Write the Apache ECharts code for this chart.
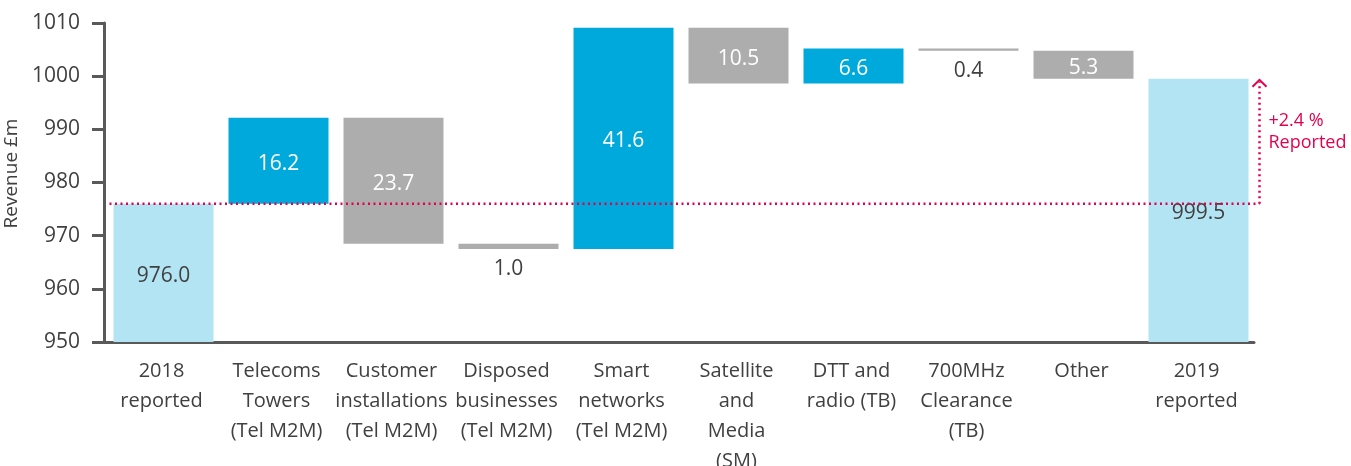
<!DOCTYPE html>
<html>
<head>
<meta charset="utf-8">
<script src="https://cdn.jsdelivr.net/npm/echarts@6/dist/echarts.min.js"></script>
<style>
html,body{margin:0;padding:0;background:#fff;}
#chart{width:1351px;height:466px;}
</style>
</head>
<body>
<div id="chart"></div>
<script>
const categories = ['2018\nreported', 'Telecoms\nTowers\n(Tel M2M)', 'Customer\ninstallations\n(Tel M2M)', 'Disposed\nbusinesses\n(Tel M2M)', 'Smart\nnetworks\n(Tel M2M)', 'Satellite\nand\nMedia\n(SM)', 'DTT and\nradio (TB)', '700MHz\nClearance\n(TB)', 'Other', '2019\nreported'];
const changes = [976.0, 16.2, -23.7, -1.0, 41.6, -10.5, 6.6, -0.4, -5.3, 999.5];
const kinds = ['total', 'up', 'down', 'down', 'up', 'down', 'up', 'down', 'down', 'total'];
const yTicks = [950, 960, 970, 980, 990, 1000, 1010];
const growthLabel = '+2.4 %\nReported';

const FONT = '"Open Sans", "Noto Sans", sans-serif';
const COLORS = { total: '#b3e4f3', up: '#00a9dc', down: '#adadad' };
const TEXT = '#404040';
const RED = '#e5004d';

// waterfall segments
const segs = [];
let running = 0;
for (let i = 0; i < changes.length; i++) {
  const v = changes[i];
  if (kinds[i] === 'total') {
    segs.push([i, null, v, Math.abs(v).toFixed(1), kinds[i]]);
    running = v;
  } else {
    const start = running, end = running + v;
    segs.push([i, Math.min(start, end), Math.max(start, end), Math.abs(v).toFixed(1), kinds[i]]);
    running = end;
  }
}

const chart = echarts.init(document.getElementById('chart'), null, { renderer: 'canvas' });

function renderItem(params, api) {
  const d = segs[params.dataIndex];
  const cs = params.coordSys;
  const i = d[0];
  const top = api.coord([i, d[2]]);
  const yBottom = d[1] === null ? cs.y + cs.height : api.coord([i, d[1]])[1];
  const bw = 100;
  const cx = top[0] + 2;
  const x = cx - bw / 2;
  const h = Math.max(yBottom - top[1], 2);
  const kind = d[4];
  const children = [{
    type: 'rect',
    shape: { x: x, y: top[1], width: bw, height: h },
    style: { fill: COLORS[kind] }
  }];
  const thin = h < 20;
  const ly = thin ? yBottom + 20 : top[1] + h / 2 + 3;
  children.push({
    type: 'text',
    style: {
      text: d[3], x: cx, y: ly,
      align: 'center', verticalAlign: 'middle',
      fill: (thin || kind === 'total') ? TEXT : '#ffffff',
      font: '21px ' + FONT
    },
    z2: 10
  });
  return { type: 'group', children: children };
}

const option = {
  animation: false,
  grid: { left: 104, right: 97, top: 23, bottom: 124, outerBoundsMode: 'none', containLabel: false },
  xAxis: {
    type: 'category',
    data: categories,
    axisLine: { lineStyle: { color: '#595959', width: 3 } },
    axisTick: { show: false },
    axisLabel: { color: TEXT, fontSize: 20, lineHeight: 30, fontFamily: FONT, margin: 14, interval: 0 }
  },
  yAxis: {
    type: 'value',
    min: yTicks[0], max: yTicks[yTicks.length - 1], interval: 10,
    name: 'Revenue £m',
    nameLocation: 'middle',
    nameGap: 78,
    nameTextStyle: { color: TEXT, fontSize: 19, fontFamily: FONT, padding: [0, 0, 0, 18] },
    axisLine: { show: true, lineStyle: { color: '#595959', width: 3 } },
    axisTick: { show: true, length: 12, lineStyle: { color: '#595959', width: 3 } },
    axisLabel: { color: TEXT, fontSize: 21, fontFamily: FONT, margin: 24, formatter: v => String(v) },
    splitLine: { show: false }
  },
  series: [{
    type: 'custom',
    renderItem: renderItem,
    encode: { x: 0, y: [1, 2] },
    data: segs.map(s => [s[0], s[1] === null ? yTicks[0] : s[1], s[2]])
  }]
};
chart.setOption(option);

// red dotted reference line + growth arrow, positioned from data
const yStart = chart.convertToPixel({ yAxisIndex: 0 }, changes[0]);
const yEnd = chart.convertToPixel({ yAxisIndex: 0 }, changes[changes.length - 1]);
const xFirst = chart.convertToPixel({ xAxisIndex: 0 }, 0);
const xLast = chart.convertToPixel({ xAxisIndex: 0 }, categories.length - 1);
const xL = xFirst - 52, xR = xLast + 63;
const dot = { stroke: RED, lineWidth: 2.5, lineDash: [2, 3.5], lineCap: 'butt' };
chart.setOption({
  graphic: [
    { type: 'line', shape: { x1: xL, y1: yStart, x2: xR, y2: yStart }, style: dot, z: 100 },
    { type: 'line', shape: { x1: xR, y1: yStart, x2: xR, y2: yEnd + 3 }, style: dot, z: 100 },
    { type: 'polyline', shape: { points: [[xR - 7, yEnd + 8], [xR, yEnd + 1], [xR + 7, yEnd + 8]] },
      style: { stroke: RED, lineWidth: 2, fill: null }, z: 100 },
    { type: 'text', x: xR + 9, y: yEnd + 31,
      style: { text: growthLabel, fill: RED, font: '18px ' + FONT, lineHeight: 22, align: 'left', verticalAlign: 'top' }, z: 100 }
  ]
});
</script>
</body>
</html>
